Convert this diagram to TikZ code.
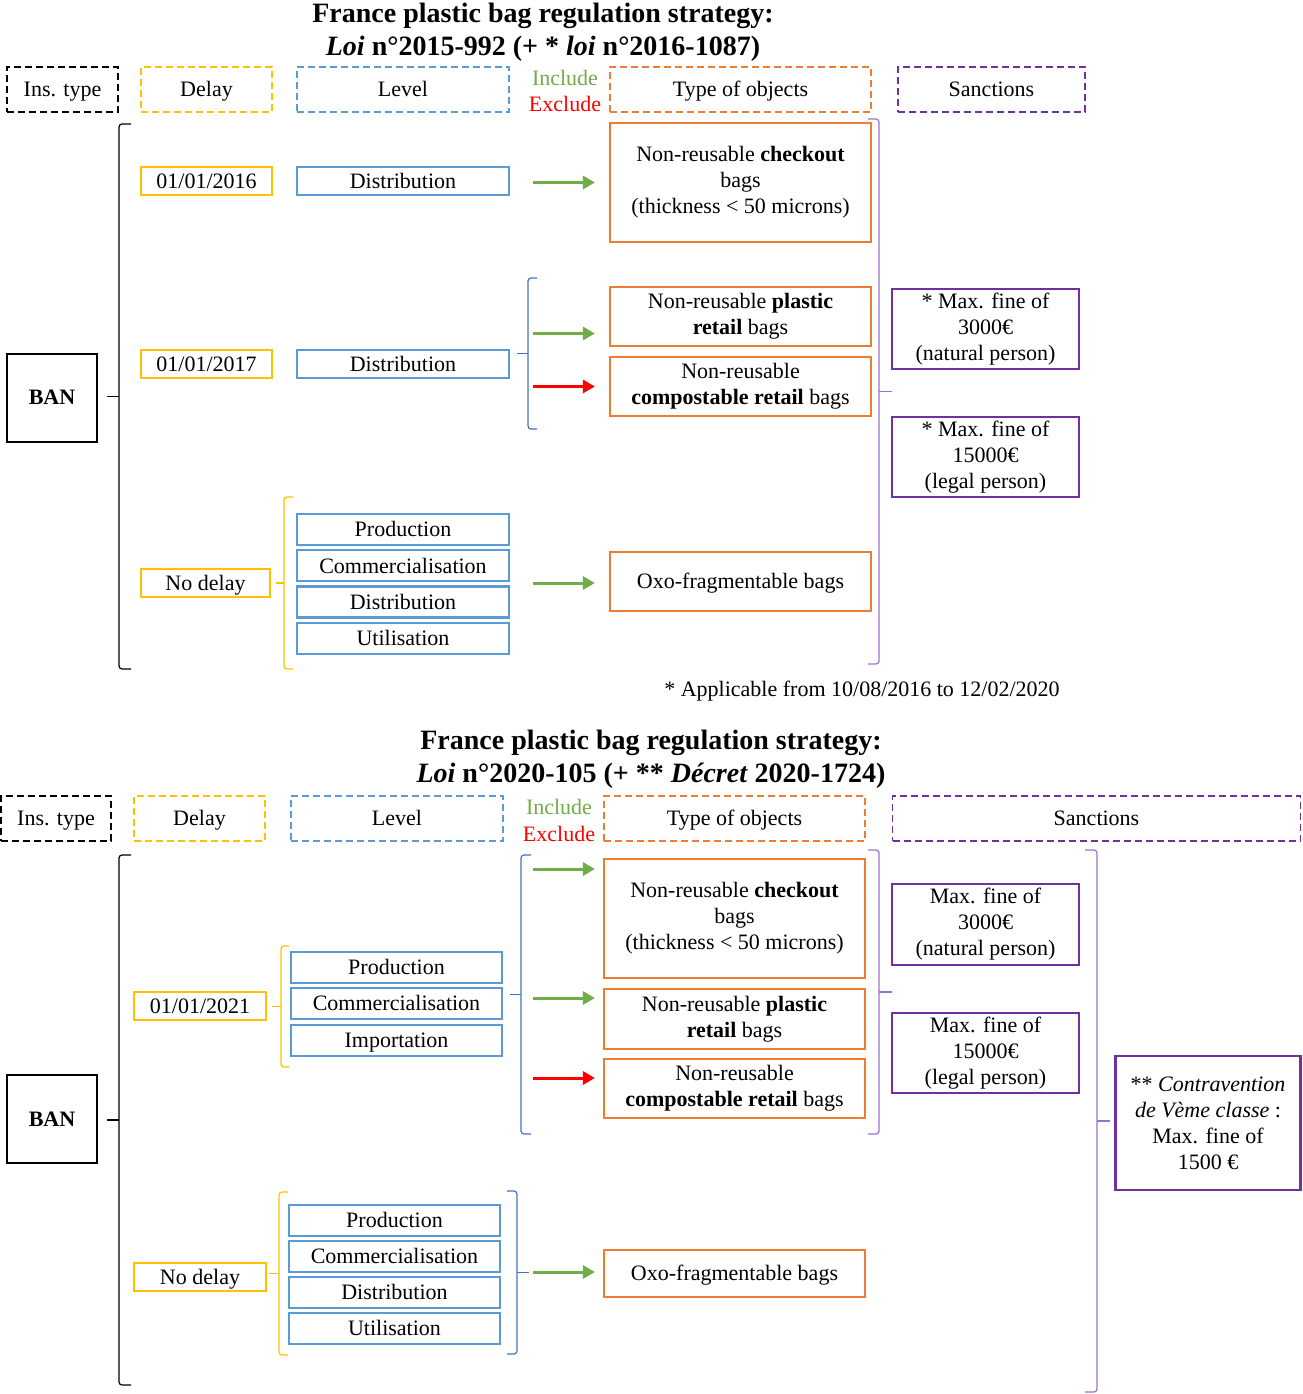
\documentclass[tikz,border=0pt]{standalone}
\usepackage{fontspec}
\setmainfont{Liberation Serif}
\usetikzlibrary{arrows.meta}
\definecolor{yel}{HTML}{FFC000}
\definecolor{blu}{HTML}{5B9BD5}
\definecolor{ora}{HTML}{ED7D31}
\definecolor{pur}{HTML}{7030A0}
\definecolor{grn}{HTML}{70AD47}
\definecolor{exc}{HTML}{FF0000}
\definecolor{bbrace}{HTML}{4472C4}
\definecolor{pbrace}{HTML}{9B72CB}

\begin{document}
\begin{tikzpicture}[x=1pt,y=-1pt,
        font=\fontsize{22}{26}\selectfont,
        every node/.style={inner sep=0pt, align=center},
        one line/.style={text height=19.6pt, text depth=4.8pt},
        many lines/.style={execute at begin node={\rule{0pt}{19.6pt}}},
        title/.style={font=\fontsize{28}{33}\selectfont\bfseries},
        head/.style={one line, draw, line width=1.7pt, dash pattern=on 7pt off 4pt, minimum height=45pt},
        ban box/.style={draw, line width=2pt, minimum width=90pt, minimum height=88pt, font=\fontsize{22}{26}\selectfont\bfseries},
        delay box/.style={one line, draw=yel, line width=2.2pt, minimum height=28pt},
        level box/.style={one line, draw=blu, line width=2.2pt, minimum height=31pt},
        object box/.style={many lines, draw=ora, line width=2.2pt, minimum width=261pt},
        fine box/.style={many lines, draw=pur, line width=2.2pt},
        inc/.style={color=grn, line width=3pt, -{Triangle[length=12pt,width=13pt]}},
        exc/.style={inc, color=exc},
        bracket/.style={line width=1.2pt, rounded corners=3pt}]

\useasboundingbox (0,0) rectangle (1302,1394);

% ---------- Loi 2015-992 ----------
\node[title] (Title1) at (543,16) {France plastic bag regulation strategy:};
\node[title] (Title1-1) at (543,49) {\textit{Loi} n°2015-992 (+ * \textit{loi} n°2016-1087)};

\node[head, minimum width=111pt] (Ins1) at (62.5,89.5) {Ins. type};
\node[head, draw=yel, minimum width=131pt] (Delay1) at (206.5,89.5) {Delay};
\node[head, draw=blu, minimum width=212pt] (Level1) at (403,89.5) {Level};
\node[text=grn] (Inc1) at (565,78) {Include};
\node[text=exc] (Exc1) at (565,104) {Exclude};
\node[head, draw=ora, minimum width=261pt] (Type1) at (740.5,89.5) {Type of objects};
\node[head, draw=pur, minimum width=187pt] (Sanc1) at (991.5,89.5) {Sanctions};

\node[ban box] (Ban1) at (52,397.5) {BAN};

\node[delay box, minimum width=131pt] (Delay1-1) at (206.5,181) {01/01/2016};
\node[delay box, minimum width=131pt] (Delay1-2) at (206.5,364) {01/01/2017};
\node[delay box, minimum width=129pt] (Delay1-3) at (205.5,583) {No delay};

\node[level box, minimum width=212pt, minimum height=28pt] (Level1-1) at (403,181) {Distribution};
\node[level box, minimum width=212pt, minimum height=28pt] (Level1-2) at (403,364) {Distribution};
\node[level box, minimum width=212pt] (Level1-3-1) at (403,529.5) {Production};
\node[level box, minimum width=212pt] (Level1-3-2) at (403,565.8) {Commercialisation};
\node[level box, minimum width=212pt] (Level1-3-3) at (403,602) {Distribution};
\node[level box, minimum width=212pt] (Level1-3-4) at (403,638.3) {Utilisation};

\node[object box, minimum height=119pt] (Obj1-1) at (740.5,182.5) {Non-reusable \textbf{checkout}\\bags\\(thickness < 50 microns)};
\node[object box, minimum height=59pt] (Obj1-2) at (740.5,316.5) {Non-reusable \textbf{plastic}\\\textbf{retail} bags};
\node[object box, minimum height=59pt] (Obj1-3) at (740.5,386.5) {Non-reusable\\\textbf{compostable retail} bags};
\node[object box, minimum height=59pt] (Obj1-4) at (740.5,581.5) {Oxo-fragmentable bags};

\draw[inc] ([xshift=-76pt]Obj1-1.west) -- ([xshift=-14pt]Obj1-1.west);
\draw[inc] ([xshift=-76pt,yshift=-17pt]Obj1-2.west) -- ([xshift=-14pt,yshift=-17pt]Obj1-2.west);
\draw[exc] ([xshift=-76pt]Obj1-3.west) -- ([xshift=-14pt]Obj1-3.west);
\draw[inc] ([xshift=-76pt,yshift=-1.5pt]Obj1-4.west) -- ([xshift=-14pt,yshift=-1.5pt]Obj1-4.west);

\node[fine box, minimum width=187pt, minimum height=80pt] (Fine1-1) at (985.5,329) {* Max. fine of\\3000€\\(natural person)};
\node[fine box, minimum width=187pt, minimum height=80pt] (Fine1-2) at (985.5,457) {* Max. fine of\\15000€\\(legal person)};

\node (Note1) at (862,691) {* Applicable from 10/08/2016 to 12/02/2020};

% ---------- Loi 2020-105 ----------
\node[title] (Title2) at (651,743) {France plastic bag regulation strategy:};
\node[title] (Title2-1) at (651,776) {\textit{Loi} n°2020-105 (+ ** \textit{Décret} 2020-1724)};

\node[head, minimum width=110pt] (Ins2) at (56,818.5) {Ins. type};
\node[head, draw=yel, minimum width=131pt] (Delay2) at (199.5,818.5) {Delay};
\node[head, draw=blu, minimum width=212pt] (Level2) at (397,818.5) {Level};
\node[text=grn] (Inc2) at (559,807) {Include};
\node[text=exc] (Exc2) at (559,834) {Exclude};
\node[head, draw=ora, minimum width=261pt] (Type2) at (734.5,818.5) {Type of objects};
\node[head, draw=pur, minimum width=408pt] (Sanc2) at (1096.5,818.5) {Sanctions};

\node[ban box] (Ban2) at (52,1119) {BAN};

\node[delay box, minimum width=132pt] (Delay2-1) at (200,1006) {01/01/2021};
\node[level box, minimum width=211pt] (Level2-1-1) at (396.5,967.5) {Production};
\node[level box, minimum width=211pt] (Level2-1-2) at (396.5,1003.5) {Commercialisation};
\node[level box, minimum width=211pt] (Level2-1-3) at (396.5,1040.5) {Importation};

\node[delay box, minimum width=132pt] (Delay2-2) at (200,1277) {No delay};
\node[level box, minimum width=211pt] (Level2-2-1) at (394.5,1220.5) {Production};
\node[level box, minimum width=211pt] (Level2-2-2) at (394.5,1256.5) {Commercialisation};
\node[level box, minimum width=211pt] (Level2-2-3) at (394.5,1292.5) {Distribution};
\node[level box, minimum width=211pt] (Level2-2-4) at (394.5,1328.5) {Utilisation};

\node[object box, minimum height=119pt] (Obj2-1) at (734.5,918.5) {Non-reusable \textbf{checkout}\\bags\\(thickness < 50 microns)};
\node[object box, minimum height=60pt] (Obj2-2) at (734.5,1019) {Non-reusable \textbf{plastic}\\\textbf{retail} bags};
\node[object box, minimum height=59pt] (Obj2-3) at (734.5,1088.5) {Non-reusable\\\textbf{compostable retail} bags};
\node[object box, minimum height=47pt] (Obj2-4) at (734.5,1273.5) {Oxo-fragmentable bags};

\draw[inc] ([xshift=-70pt,yshift=49.5pt]Obj2-1.west) -- ([xshift=-8pt,yshift=49.5pt]Obj2-1.west);
\draw[inc] ([xshift=-70pt,yshift=21pt]Obj2-2.west) -- ([xshift=-8pt,yshift=21pt]Obj2-2.west);
\draw[exc] ([xshift=-70pt,yshift=10.5pt]Obj2-3.west) -- ([xshift=-8pt,yshift=10.5pt]Obj2-3.west);
\draw[inc] ([xshift=-70pt,yshift=1.5pt]Obj2-4.west) -- ([xshift=-8pt,yshift=1.5pt]Obj2-4.west);

\node[fine box, minimum width=187pt, minimum height=81pt] (Fine2-1) at (985.5,924.5) {Max. fine of\\3000€\\(natural person)};
\node[fine box, minimum width=187pt, minimum height=80pt] (Fine2-2) at (985.5,1053) {Max. fine of\\15000€\\(legal person)};
\node[fine box, minimum width=185pt, minimum height=134pt] (Fine2-3) at (1208,1123) {** \textit{Contravention}\\\textit{de Vème classe} :\\Max. fine of\\1500 €};

% brackets: end x / bar x / tip x / top y / bottom y / colour
\foreach \xe/\xb/\xt/\yt/\yb/\col in {131/119/107/124/669/black, 293/284/276/497/669/yel,
        537/528/517/278/429/bbrace, 868/879/892/119/664/pbrace,
        131/119/107/855/1385/black, 289/281/272/946/1067/yel, 531/521/510/855/1134/bbrace,
        288/279/269/1192/1355/yel, 507/517/529/1191/1354/bbrace,
        868/879/892/850/1134/pbrace, 1085/1097/1110/850/1392/pbrace}
{
  \draw[bracket, \col] (\xe,\yt) -- (\xb,\yt) -- (\xb,\yb) -- (\xe,\yb);
  \draw[bracket, \col] (\xb,{(\yt+\yb)/2}) -- (\xt,{(\yt+\yb)/2});
}

\end{tikzpicture}
\end{document}
